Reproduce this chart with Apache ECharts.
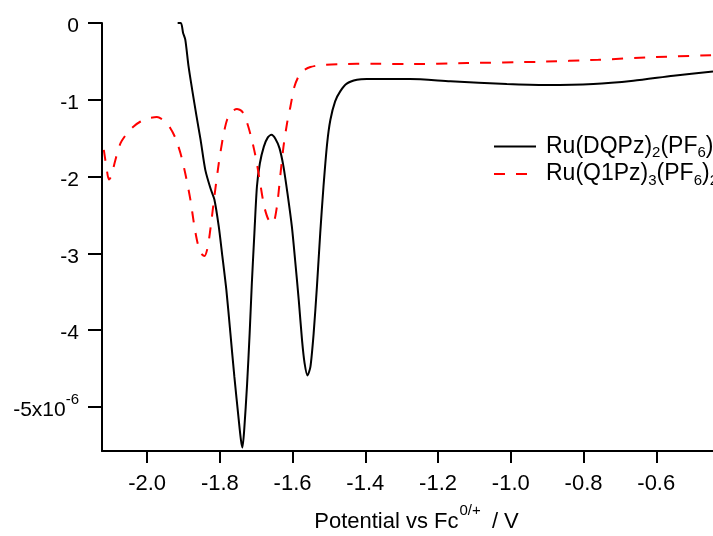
<!DOCTYPE html>
<html>
<head>
<meta charset="utf-8">
<script src="https://cdn.jsdelivr.net/npm/echarts@6/dist/echarts.min.js"></script>
<style>html,body{margin:0;padding:0;background:#fff}#c{width:713px;height:536px}</style>
</head>
<body>
<div id="c"></div>
<script>
// Potential (V vs Fc0/+) and current (in units of 1e-6 A)
const blackX = [-1.916,-1.907,-1.901,-1.895,-1.886,-1.876,-1.864,-1.853,-1.840,-1.826,-1.815,-1.803,-1.794,-1.782,-1.771,-1.760,-1.748,-1.742,-1.738,-1.733,-1.725,-1.718,-1.712,-1.705,-1.698,-1.690,-1.679,-1.668,-1.658,-1.647,-1.636,-1.625,-1.614,-1.602,-1.593,-1.583,-1.574,-1.567,-1.559,-1.551,-1.542,-1.533,-1.524,-1.515,-1.505,-1.496,-1.483,-1.469,-1.451,-1.423,-1.396,-1.332,-1.277,-1.166,-1.011,-0.901,-0.773,-0.663,-0.553,-0.444];
const blackY = [0.0,0.0,-0.13,-0.217,-0.565,-0.87,-1.217,-1.52,-1.913,-2.15,-2.30,-2.65,-3.0,-3.48,-4.04,-4.61,-5.17,-5.43,-5.53,-5.30,-4.70,-4.04,-3.39,-2.74,-2.13,-1.83,-1.61,-1.49,-1.457,-1.51,-1.63,-1.87,-2.22,-2.65,-3.09,-3.61,-4.13,-4.43,-4.59,-4.48,-4.04,-3.43,-2.74,-2.13,-1.57,-1.26,-1.02,-0.89,-0.79,-0.74,-0.73,-0.73,-0.73,-0.76,-0.796,-0.809,-0.796,-0.753,-0.687,-0.631];
const redX = [-2.119,-2.112,-2.105,-2.099,-2.087,-2.073,-2.055,-2.037,-2.018,-1.995,-1.973,-1.954,-1.936,-1.922,-1.908,-1.895,-1.881,-1.870,-1.861,-1.852,-1.842,-1.833,-1.824,-1.815,-1.803,-1.791,-1.780,-1.766,-1.753,-1.739,-1.725,-1.712,-1.700,-1.689,-1.678,-1.666,-1.654,-1.643,-1.634,-1.625,-1.615,-1.606,-1.595,-1.583,-1.570,-1.551,-1.524,-1.469,-1.377,-1.285,-1.12,-0.92,-0.759,-0.621,-0.444];
const redY = [-1.652,-1.87,-2.04,-2.0,-1.78,-1.565,-1.435,-1.348,-1.283,-1.24,-1.226,-1.27,-1.37,-1.50,-1.70,-1.96,-2.30,-2.65,-2.87,-3.0,-3.035,-2.91,-2.61,-2.26,-1.83,-1.48,-1.26,-1.15,-1.12,-1.15,-1.30,-1.52,-1.78,-2.09,-2.39,-2.565,-2.61,-2.39,-2.0,-1.61,-1.30,-1.09,-0.83,-0.69,-0.62,-0.574,-0.548,-0.535,-0.53,-0.535,-0.522,-0.505,-0.479,-0.448,-0.418];
const seriesNames = ['Ru(DQPz)2(PF6)2', 'Ru(Q1Pz)3(PF6)2'];
const xTicks = [-2.0,-1.8,-1.6,-1.4,-1.2,-1.0,-0.8,-0.6];
const yTicks = [0,-1,-2,-3,-4,-5];

const FONT = 'Liberation Sans, Arial, sans-serif';
const zip = (a, b) => a.map((v, i) => [v, b[i]]);
const legendLabels = {
  'Ru(DQPz)2(PF6)2': '{n|Ru(DQPz)}{s|2}{n|(PF}{s|6}{n|)}{s|2}',
  'Ru(Q1Pz)3(PF6)2': '{n|Ru(Q1Pz)}{s|3}{n|(PF}{s|6}{n|)}{s|2}'
};

const chart = echarts.init(document.getElementById('c'), null, {renderer: 'canvas'});
chart.setOption({
  animation: false,
  backgroundColor: '#fff',
  grid: {left: 102, right: 0, top: 23, bottom: 85, outerBoundsMode: 'none', containLabel: false},
  legend: {
    left: 493, top: 135, orient: 'vertical', padding: 0,
    itemWidth: 42, itemHeight: 14, itemGap: 2,
    itemStyle: {color: 'rgba(0,0,0,0)', borderWidth: 0, opacity: 0},
    formatter: n => legendLabels[n],
    textStyle: {
      padding: [0, 0, 0, 5],
      rich: {
        n: {fontSize: 23, fontFamily: FONT, color: '#000', lineHeight: 28, verticalAlign: 'middle'},
        s: {fontSize: 15, fontFamily: FONT, color: '#000', lineHeight: 28, verticalAlign: 'bottom'}
      }
    },
    data: seriesNames
  },
  xAxis: {
    type: 'value', min: -2.124, max: -0.444,
    name: '{n|Potential vs Fc}{p|0/+}{n| / V}',
    nameLocation: 'middle', nameGap: 52,
    nameTextStyle: {
      padding: [0, 0, 0, 18],
      rich: {
        n: {fontSize: 22, fontFamily: FONT, color: '#000', lineHeight: 30, verticalAlign: 'bottom'},
        p: {fontSize: 15, fontFamily: FONT, color: '#000', lineHeight: 30, verticalAlign: 'top', padding: [0, 5, 0, 1]}
      }
    },
    axisLine: {show: true, onZero: false, lineStyle: {color: '#000', width: 2}},
    axisTick: {show: true, length: 12, lineStyle: {color: '#000', width: 2}, customValues: xTicks},
    axisLabel: {fontSize: 22, fontFamily: FONT, color: '#000', margin: 22, customValues: xTicks,
      formatter: v => v.toFixed(1)},
    splitLine: {show: false}
  },
  yAxis: {
    type: 'value', min: -5.575, max: 0,
    name: 'Current / A', nameLocation: 'middle', nameGap: 64,
    nameTextStyle: {fontSize: 20, fontFamily: FONT, color: '#000'},
    axisLine: {show: true, onZero: false, lineStyle: {color: '#000', width: 2}},
    axisTick: {show: true, length: 14, lineStyle: {color: '#000', width: 2}, customValues: yTicks},
    axisLabel: {
      fontSize: 20, fontFamily: FONT, color: '#000', margin: 23, customValues: yTicks,
      formatter: v => v === -5 ? '{n|-5x10}{p|-6}' : '{n|' + String(Math.round(v)) + '}',
      rich: {
        n: {fontSize: 21, fontFamily: FONT, color: '#000', lineHeight: 28, verticalAlign: 'bottom'},
        p: {fontSize: 15, fontFamily: FONT, color: '#000', lineHeight: 28, verticalAlign: 'top'}
      }
    },
    splitLine: {show: false}
  },
  series: [
    {name: seriesNames[0], type: 'line', data: zip(blackX, blackY), showSymbol: false, symbol: 'none',
     smooth: 0.25, lineStyle: {color: '#000', width: 2}, itemStyle: {color: '#000'}},
    {name: seriesNames[1], type: 'line', data: zip(redX, redY), showSymbol: false, symbol: 'none',
     smooth: 0.25, lineStyle: {color: '#ff0000', width: 2, type: [11, 11]}, itemStyle: {color: '#ff0000'}}
  ]
});
</script>
</body>
</html>
